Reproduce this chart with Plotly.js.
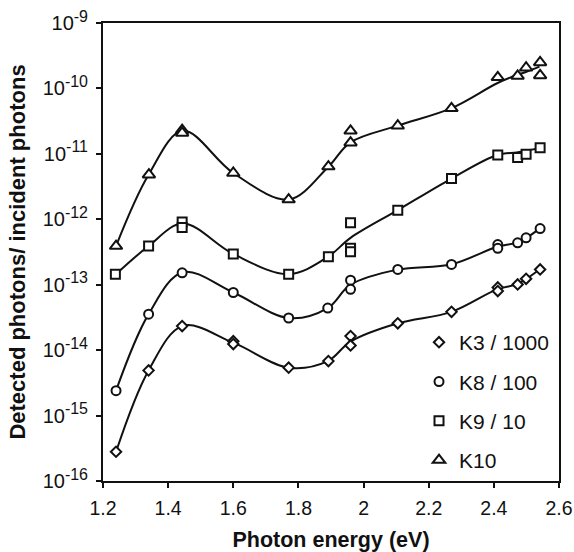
<!DOCTYPE html>
<html>
<head>
<meta charset="utf-8">
<script src="https://cdn.plot.ly/plotly-3.0.1.min.js"></script>
<style>html,body{margin:0;padding:0;background:#fff;}#chart{width:574px;height:552px;}</style>
</head>
<body>
<div id="chart"></div>
<script>
const k3X  = [1.24, 1.34, 1.443, 1.6, 1.6, 1.77, 1.892, 1.96, 1.96, 2.105, 2.27, 2.412, 2.412, 2.473, 2.499, 2.542];
const k3Y  = [2.8e-16, 4.9e-15, 2.33e-14, 1.37e-14, 1.24e-14, 5.4e-15, 6.8e-15, 1.64e-14, 1.18e-14, 2.57e-14, 3.85e-14, 9.1e-14, 8.0e-14, 1.01e-13, 1.23e-13, 1.71e-13];

const k8X  = [1.24, 1.34, 1.443, 1.6, 1.77, 1.89, 1.96, 1.96, 2.105, 2.27, 2.412, 2.412, 2.473, 2.499, 2.542];
const k8Y  = [2.4e-15, 3.55e-14, 1.52e-13, 7.6e-14, 3.1e-14, 4.4e-14, 1.17e-13, 8.5e-14, 1.71e-13, 2.04e-13, 4.1e-13, 3.6e-13, 4.37e-13, 5.2e-13, 7.2e-13];

const k9X  = [1.238, 1.34, 1.443, 1.443, 1.6, 1.77, 1.892, 1.96, 1.96, 1.96, 2.105, 2.27, 2.412, 2.473, 2.499, 2.542];
const k9Y  = [1.44e-13, 3.9e-13, 9.1e-13, 7.5e-13, 2.95e-13, 1.45e-13, 2.67e-13, 8.85e-13, 3.6e-13, 3.2e-13, 1.38e-12, 4.2e-12, 9.6e-12, 8.8e-12, 9.9e-12, 1.24e-11];

const k10X = [1.24, 1.341, 1.443, 1.443, 1.6, 1.77, 1.892, 1.96, 1.96, 2.105, 2.27, 2.412, 2.473, 2.499, 2.542, 2.542];
const k10Y = [3.9e-13, 4.8e-12, 2.3e-11, 2.09e-11, 5.1e-12, 2.0e-12, 6.4e-12, 2.25e-11, 1.48e-11, 2.69e-11, 4.96e-11, 1.48e-10, 1.55e-10, 2.07e-10, 2.5e-10, 1.58e-10];

// Fitted curves
const fitX   = [1.24, 1.34, 1.445, 1.6, 1.77, 1.89, 1.96, 2.105, 2.27, 2.41, 2.47, 2.5, 2.54];
const fitK3  = [2.8e-16, 4.9e-15, 2.35e-14, 1.3e-14, 5.4e-15, 6.8e-15, 1.35e-14, 2.57e-14, 3.85e-14, 8.5e-14, 1.01e-13, 1.23e-13, 1.71e-13];
const fitK8  = [2.4e-15, 3.55e-14, 1.55e-13, 7.6e-14, 3.1e-14, 4.4e-14, 1.0e-13, 1.7e-13, 2.05e-13, 3.8e-13, 4.4e-13, 5.2e-13, 7.2e-13];
const fitK9  = [1.45e-13, 3.9e-13, 8.6e-13, 2.95e-13, 1.45e-13, 2.65e-13, 5.2e-13, 1.38e-12, 4.2e-12, 9.6e-12, 1.05e-11, 1.12e-11, 1.22e-11];
const fitK10 = [3.9e-13, 4.8e-12, 2.25e-11, 5.1e-12, 2.0e-12, 6.2e-12, 1.5e-11, 2.7e-11, 5.0e-11, 1.2e-10, 1.6e-10, 1.8e-10, 2.15e-10];

const seriesNames = ['K3 / 1000', 'K8 / 100', 'K9 / 10', 'K10'];
const xTicks = [1.2, 1.4, 1.6, 1.8, 2.0, 2.2, 2.4, 2.6];
const xTickText = ['1.2', '1.4', '1.6', '1.8', '2', '2.2', '2.4', '2.6'];
const yExps = [-16, -15, -14, -13, -12, -11, -10, -9];

const lineStyle = {color: '#111', width: 2, shape: 'spline', smoothing: 1};
function curve(y) {
  return {x: fitX, y: y, mode: 'lines', line: lineStyle, showlegend: false, hoverinfo: 'skip'};
}
function pts(x, y, name, symbol, size) {
  return {x: x, y: y, mode: 'markers', name: name, legendgroup: name,
    marker: {symbol: symbol, size: size, color: '#fff', line: {color: '#111', width: 2}}};
}

const data = [
  curve(fitK3), curve(fitK8), curve(fitK9), curve(fitK10),
  pts(k3X, k3Y, seriesNames[0], 'diamond', 8),
  pts(k8X, k8Y, seriesNames[1], 'circle', 9),
  pts(k9X, k9Y, seriesNames[2], 'square', 9),
  pts(k10X, k10Y, seriesNames[3], 'triangle-up', 11)
];

const fam = 'Liberation Sans, Arial, sans-serif';
const layout = {
  width: 574, height: 552,
  margin: {l: 103, r: 15, t: 23, b: 71},
  paper_bgcolor: '#fff', plot_bgcolor: '#fff',
  font: {family: fam, size: 19.5, color: '#111'},
  showlegend: true,
  legend: {x: 0.693, y: 0.347, xanchor: 'left', yanchor: 'top', bgcolor: 'rgba(0,0,0,0)',
    font: {family: fam, size: 21, color: '#111'}, tracegroupgap: 9, traceorder: 'grouped', itemwidth: 30},
  xaxis: {
    range: [1.2, 2.6], tickvals: xTicks, ticktext: xTickText,
    showline: true, mirror: true, linecolor: '#111', linewidth: 2,
    ticks: 'outside', ticklen: 5, tickwidth: 2, tickcolor: '#111',
    ticklabelstandoff: 4,
    showgrid: false, zeroline: false,
    tickfont: {family: fam, size: 19.5, color: '#111'},
    title: {text: '<b>Photon energy (eV)</b>', font: {family: fam, size: 21.5, color: '#111'}, standoff: 15}
  },
  yaxis: {
    type: 'log', range: [-16, -9],
    tickvals: yExps.map(e => Math.pow(10, e)),
    ticktext: yExps.map(e => '10<sup><span style="font-size:16px">' + e + '</span></sup>'),
    showline: true, mirror: true, linecolor: '#111', linewidth: 2,
    ticks: 'outside', ticklen: 5, tickwidth: 2, tickcolor: '#111',
    ticklabelstandoff: 4,
    showgrid: false, zeroline: false,
    tickfont: {family: fam, size: 20, color: '#111'},
    title: {text: '<b>Detected photons/ incident photons</b>', font: {family: fam, size: 22, color: '#111'}, standoff: 11}
  }
};

Plotly.newPlot('chart', data, layout, {displayModeBar: false, staticPlot: true});
</script>
</body>
</html>
